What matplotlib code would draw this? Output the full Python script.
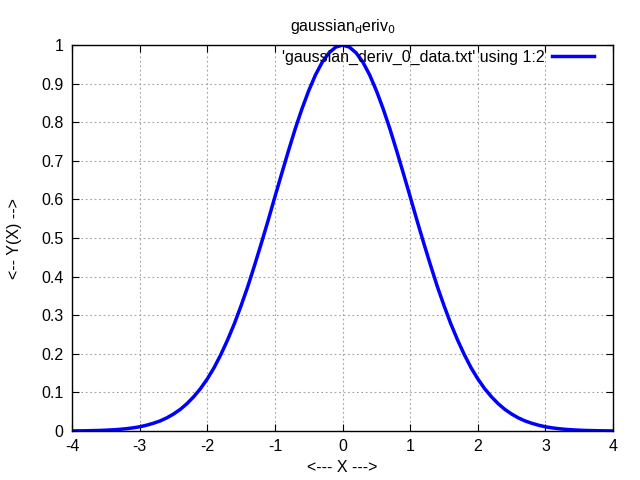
import matplotlib
matplotlib.use('Agg')
import matplotlib.pyplot as plt

plt.rcParams['font.family'] = ['Liberation Sans', 'DejaVu Sans']
plt.rcParams['font.size'] = 11.5

# values
x_vals = [-4.0, -3.9, -3.8, -3.7, -3.6, -3.5, -3.4, -3.3, -3.2, -3.1,
          -3.0, -2.9, -2.8, -2.7, -2.6, -2.5, -2.4, -2.3, -2.2, -2.1,
          -2.0, -1.9, -1.8, -1.7, -1.6, -1.5, -1.4, -1.3, -1.2, -1.1,
          -1.0, -0.9, -0.8, -0.7, -0.6, -0.5, -0.4, -0.3, -0.2, -0.1,
          0.0, 0.1, 0.2, 0.3, 0.4, 0.5, 0.6, 0.7, 0.8, 0.9,
          1.0, 1.1, 1.2, 1.3, 1.4, 1.5, 1.6, 1.7, 1.8, 1.9,
          2.0, 2.1, 2.2, 2.3, 2.4, 2.5, 2.6, 2.7, 2.8, 2.9,
          3.0, 3.1, 3.2, 3.3, 3.4, 3.5, 3.6, 3.7, 3.8, 3.9, 4.0]
y_vals = [0.0003, 0.0005, 0.0007, 0.0011, 0.0015, 0.0022, 0.0031, 0.0043, 0.0060, 0.0082,
          0.011, 0.015, 0.020, 0.026, 0.034, 0.044, 0.056, 0.071, 0.089, 0.110,
          0.135, 0.164, 0.198, 0.236, 0.278, 0.325, 0.375, 0.430, 0.487, 0.546,
          0.607, 0.667, 0.726, 0.783, 0.835, 0.882, 0.923, 0.956, 0.980, 0.995,
          1.0, 0.995, 0.980, 0.956, 0.923, 0.882, 0.835, 0.783, 0.726, 0.667,
          0.607, 0.546, 0.487, 0.430, 0.375, 0.325, 0.278, 0.236, 0.198, 0.164,
          0.135, 0.110, 0.089, 0.071, 0.056, 0.044, 0.034, 0.026, 0.020, 0.015,
          0.011, 0.0082, 0.0060, 0.0043, 0.0031, 0.0022, 0.0015, 0.0011, 0.0007, 0.0005, 0.0003]
x_ticks = [-4, -3, -2, -1, 0, 1, 2, 3, 4]
y_ticks = [0, 0.1, 0.2, 0.3, 0.4, 0.5, 0.6, 0.7, 0.8, 0.9, 1]
y_labels = ['0', '0.1', '0.2', '0.3', '0.4', '0.5', '0.6', '0.7', '0.8', '0.9', '1']

fig = plt.figure(figsize=(6.4, 4.8), dpi=100)
ax = fig.add_axes([0.1125, 0.102, 0.8455, 0.804])

ax.plot(x_vals, y_vals, color='#0000ff', linewidth=2.5,
        label="'gaussian_deriv_0_data.txt' using 1:2")

ax.set_xlim(-4, 4)
ax.set_ylim(0, 1)
ax.set_xticks(x_ticks)
ax.set_xticklabels([str(t) for t in x_ticks])
ax.set_yticks(y_ticks)
ax.set_yticklabels(y_labels)
ax.tick_params(direction='in', top=True, right=True, length=5, width=0.8,
               labelsize=11.5, pad=6)
ax.grid(True, color='#a0a0a0', linestyle=(0, (1.5, 2.5)), linewidth=0.8)
for s in ax.spines.values():
    s.set_linewidth(1.0)
    s.set_color('black')

ax.set_title(r'gaussian$_{\mathrm{d}}$eriv$_{0}$', fontsize=11.5, pad=10)
ax.set_xlabel('<--- X --->', fontsize=11.5, labelpad=4)
ax.set_ylabel('<-- Y(X) -->', fontsize=11.5, labelpad=14)

leg = ax.legend(loc='upper right', markerfirst=False, frameon=False,
                fontsize=11.5, handlelength=2.6, borderaxespad=0.0,
                handletextpad=0.5, bbox_to_anchor=(0.976, 1.005))

fig.savefig('out.png', dpi=100, facecolor='white')
